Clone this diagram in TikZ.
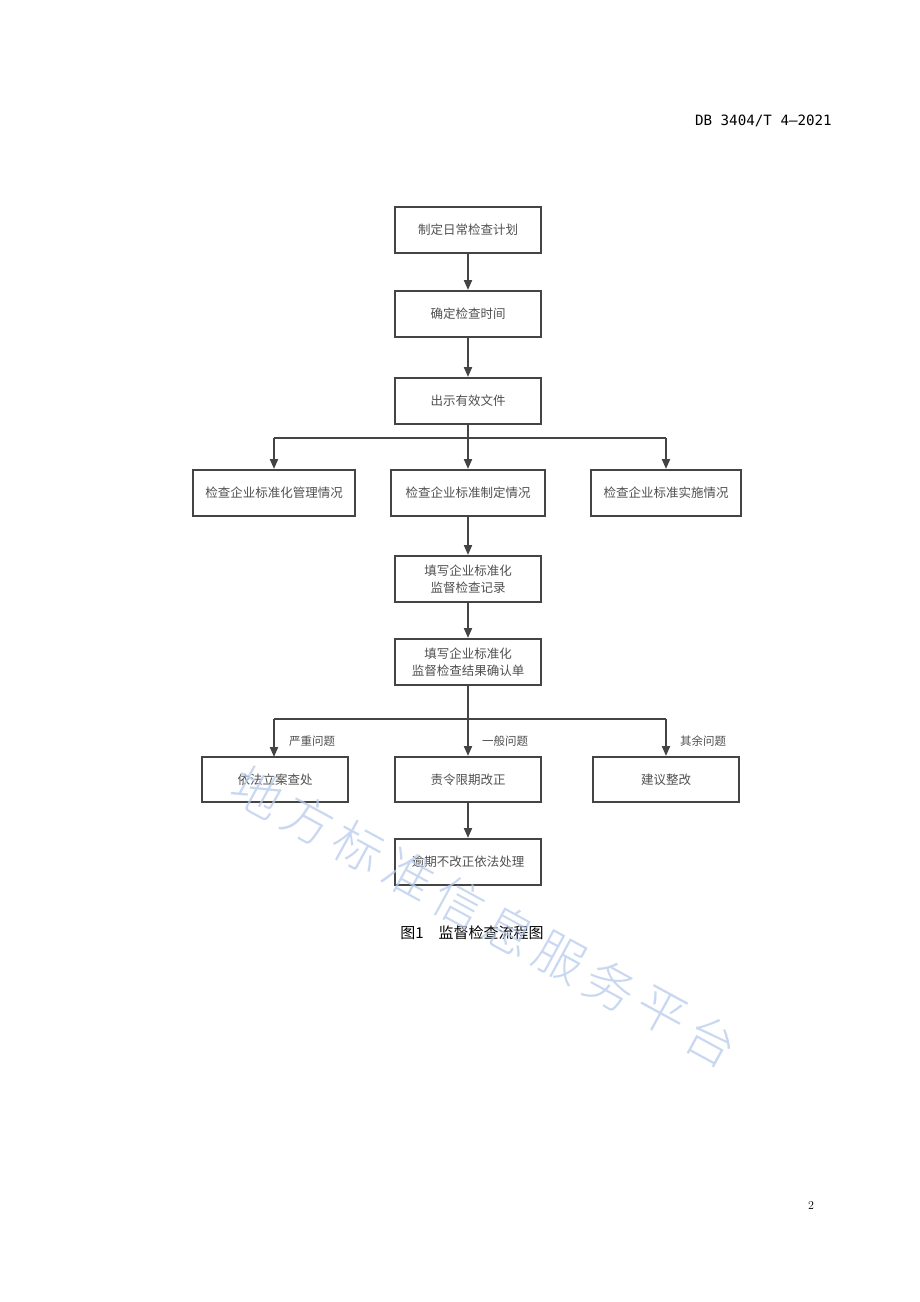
\documentclass[tikz,border=0pt]{standalone}
\usepackage{fontspec}
\newfontfamily\cjk{Noto Sans CJK SC}
\newfontfamily\cjkl{Noto Sans CJK SC Light}
\newfontfamily\monof{DejaVu Sans Mono}
\usetikzlibrary{arrows.meta}
\definecolor{boxline}{HTML}{444444}
\definecolor{boxtext}{HTML}{505050}
\definecolor{wmark}{HTML}{B8CCEC}
\tikzset{
  flowbox/.style={draw=boxline, line width=2pt, fill=white, rectangle, minimum height=46pt,
    inner sep=0pt, align=center, font=\cjk\fontsize{12.5}{17}\selectfont, text=boxtext},
  flowarrow/.style={draw=boxline, line width=2pt, -{Triangle[length=10pt,width=8pt]}},
  flowline/.style={draw=boxline, line width=2pt},
  edgelabel/.style={font=\cjk\fontsize{11.5}{14}\selectfont, text=boxtext, inner sep=0pt}
}
\begin{document}
\begin{tikzpicture}[x=1pt,y=-1pt]
\useasboundingbox (0,0) rectangle (920,1302);
\fill[white] (0,0) rectangle (920,1302);
% header and page number
\node[anchor=east, font=\monof\fontsize{14.2}{16}\selectfont, inner sep=0pt] (hdr) at (832,121) {DB 3404/T 4—2021};
\node[font=\fontsize{12}{14}\selectfont, inner sep=0pt] (pg) at (811,1205) {2};
% boxes
\node[flowbox, minimum width=146pt] (b1) at (468,230) {制定日常检查计划};
\node[flowbox, minimum width=146pt] (b2) at (468,314) {确定检查时间};
\node[flowbox, minimum width=146pt] (b3) at (468,401) {出示有效文件};
\node[flowbox, minimum width=162pt] (l1) at (274,493) {检查企业标准化管理情况};
\node[flowbox, minimum width=154pt] (m1) at (468,493) {检查企业标准制定情况};
\node[flowbox, minimum width=150pt] (r1) at (666,493) {检查企业标准实施情况};
\node[flowbox, minimum width=146pt] (b4) at (468,579) {填写企业标准化\\监督检查记录};
\node[flowbox, minimum width=146pt] (b5) at (468,662) {填写企业标准化\\监督检查结果确认单};
\node[flowbox, minimum width=146pt, minimum height=45pt] (l2) at (275,779.5) {依法立案查处};
\node[flowbox, minimum width=146pt, minimum height=45pt] (m2) at (468,779.5) {责令限期改正};
\node[flowbox, minimum width=146pt, minimum height=45pt] (r2) at (666,779.5) {建议整改};
\node[flowbox, minimum width=146pt] (b6) at (468,862) {逾期不改正依法处理};
% branch coordinates
\coordinate (br1) at (468,438);
\coordinate (br2) at (468,719);
\coordinate (lbr2) at (274,719);
\coordinate (ltop2) at (274,757);
% connectors
\draw[flowarrow] (b1) -- (b2);
\draw[flowarrow] (b2) -- (b3);
\draw[flowline] (b3.south) -- (br1);
\draw[flowline] (l1.north |- br1) -- (r1.north |- br1);
\draw[flowarrow] (l1.north |- br1) -- (l1.north);
\draw[flowarrow] (br1) -- (m1.north);
\draw[flowarrow] (r1.north |- br1) -- (r1.north);
\draw[flowarrow] (m1) -- (b4);
\draw[flowarrow] (b4) -- (b5);
\draw[flowline] (b5.south) -- (br2);
\draw[flowline] (lbr2) -- (r2.north |- br2);
\draw[flowarrow] (lbr2) -- (ltop2);
\draw[flowarrow] (br2) -- (m2.north);
\draw[flowarrow] (r2.north |- br2) -- (r2.north);
\draw[flowarrow] (m2) -- (b6);
% labels
\node[edgelabel] (lab1) at (312,741) {严重问题};
\node[edgelabel] (lab2) at (505,741) {一般问题};
\node[edgelabel] (lab3) at (703,741) {其余问题};
% caption
\node[font=\cjk\fontsize{15}{18}\selectfont, inner sep=0pt] (cap) at (472,933) {图1\hspace{15pt}监督检查流程图};
% watermark (on top, translucent)
\foreach \ch [count=\i from 0] in {地,方,标,准,信,息,服,务,平,台} {
  \node[text=wmark, text opacity=0.75, rotate=-28.6, font=\cjkl\fontsize{50}{50}\selectfont, inner sep=0pt]
    (wm\i) at ({258+\i*50.4},{792+\i*27.6}) {\ch};
}
\end{tikzpicture}
\end{document}
